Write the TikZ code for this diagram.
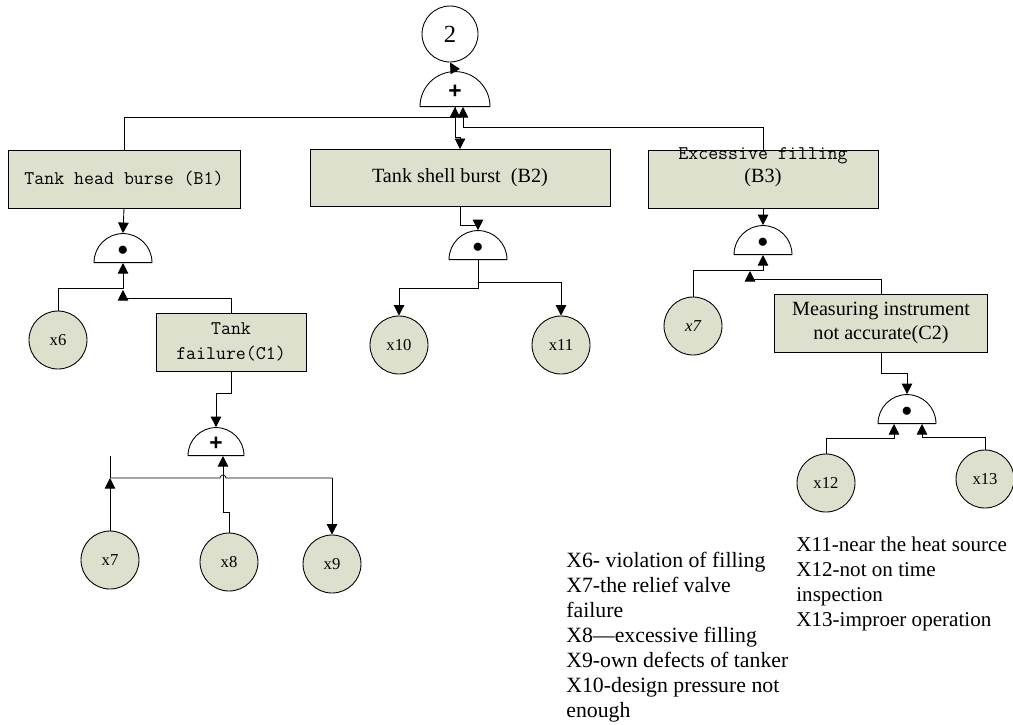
\documentclass[tikz,border=0pt]{standalone}
\usepackage{fontspec}
\setmainfont{Liberation Serif}
\setsansfont{Liberation Sans}
\usetikzlibrary{shapes.geometric,arrows.meta}
\definecolor{boxfill}{RGB}{221,224,204}
\begin{document}
\begin{tikzpicture}[x=0.02cm,y=-0.02cm,
  arr/.style={-{Triangle[length=6pt,width=6pt]},line width=0.5pt},
  event/.style={draw,fill=boxfill,line width=0.5pt,inner sep=0pt,align=center,font=\fontsize{11.5}{13.5}\selectfont},
  basic/.style={draw,circle,fill=boxfill,line width=0.5pt,minimum size=1.16cm,inner sep=0pt,font=\fontsize{9.5}{11}\selectfont},
  gate/.style={draw,semicircle,line width=0.5pt,inner sep=0pt,anchor=chord center,minimum width=1.16cm}]
\useasboundingbox (0,0) rectangle (1013,724);
% top event and OR gate
\node[draw,circle,line width=0.5pt,minimum size=1.12cm,font=\fontsize{14}{16}\selectfont] (T2) at (450,34) {2};
\node[gate,minimum width=1.4cm,font=\sffamily\bfseries\fontsize{13}{13}\selectfont] (G0) at (455,107) {+};
% intermediate events
\node[event,minimum width=4.64cm,minimum height=1.16cm,font=\ttfamily\fontsize{11}{13.5}\selectfont] (B1) at (124,179) {Tank head burse (B1)};
\node[event,minimum width=6cm,minimum height=1.14cm] (B2) at (460,178) {Tank shell burst\ \ (B2)};
\node[event,minimum width=4.6cm,minimum height=1.16cm] (B3) at (763,179) {};
\node[align=center,anchor=north,inner sep=0pt,font=\fontsize{11.5}{13}\selectfont] (B3t) at (763,147) {{\ttfamily\fontsize{11}{13}\selectfont Excessive filling}\\(B3)};
\node[event,minimum width=3cm,minimum height=1.16cm,font=\ttfamily\fontsize{11}{14}\selectfont] (C1) at (231,342) {Tank\\failure(C1)};
\node[event,minimum width=4.26cm,minimum height=1.16cm] (C2) at (881,323) {Measuring instrument\\not accurate(C2)};
% gates
\node[gate,font=\fontsize{12}{12}\selectfont] (G1) at (123,263) {$\bullet$};
\node[gate,minimum width=1.12cm,font=\sffamily\bfseries\fontsize{13}{13}\selectfont] (G3) at (216,456) {+};
\node[gate,font=\fontsize{12}{12}\selectfont] (G2) at (478,260) {$\bullet$};
\node[gate,font=\fontsize{12}{12}\selectfont] (G4) at (763,255) {$\bullet$};
\node[gate,font=\fontsize{12}{12}\selectfont] (G5) at (907,424) {$\bullet$};
% basic events
\node[basic] (X6) at (58,340) {x6};
\node[basic] (X7) at (110,560) {x7};
\node[basic] (X8) at (229,562) {x8};
\node[basic] (X9) at (332,564) {x9};
\node[basic] (X10) at (399,345) {x10};
\node[basic] (X11) at (561,345) {x11};
\node[basic] (X7b) at (693,326) {\itshape x7};
\node[basic] (X12) at (826,483) {x12};
\node[basic] (X13) at (985,479) {x13};
% connectors, top
\draw[arr] (G0.apex) -- (T2.south);
\draw[arr] (B1.north) -- ++(0,-32) -| (G0.chord center);
\draw[arr] (G0.chord center) -- ++(0,30) -| (B2.north);
\draw[arr] (B3.north) -- ++(0,-22) -| ([xshift=0.16cm]G0.chord center);
% B1 branch
\draw[arr] (B1.south) -- (G1.apex);
\draw[arr] (X6.north) -- ++(0,-22) -| (G1.chord center);
\draw[arr] (C1.north) -- ++(0,-14) -| ([yshift=-0.54cm]G1.chord center);
\draw[arr] (C1.south) -- ++(0,22) -| (G3.apex);
\coordinate (J7) at (110,478);
\coordinate (J9) at (332,478);
\draw[arr] (X7.north) -- (J7);
\draw (J7) -- ++(0,-22);
\draw (J7) -- (220,478) arc[start angle=180,end angle=360,radius=3] -- (J9);
\draw[arr] (J9) -- (X9.north);
\draw[arr] (X8.north) -- ++(0,-20) -| ([xshift=0.14cm]G3.chord center);
% B2 branch
\draw[arr] (B2.south) -- ++(0,18) -| (G2.apex);
\draw[arr] (G2.chord center) -- ++(0,28) -| (X10.north);
\draw[arr] (G2.chord center) -- ++(0,22) -| (X11.north);
% B3 branch
\draw[arr] (B3.south) -- (G4.apex);
\draw[arr] (X7b.north) -- ++(0,-26) -| (G4.chord center);
\draw[arr] (C2.north) -- ++(0,-14) -| ([xshift=-0.26cm,yshift=-0.32cm]G4.chord center);
\draw[arr] (C2.south) -- ++(0,21) -| (G5.apex);
\draw[arr] (X12.north) -- ++(0,-15) -| ([xshift=-0.26cm]G5.chord center);
\draw[arr] (X13.north) -- ++(0,-12) -| ([xshift=0.3cm]G5.chord center);
% legend
\node[anchor=north west,align=left,inner sep=0pt,font=\fontsize{12.4}{14.2}\selectfont] (L1) at (566,552)
  {X6- violation of filling\\X7-the relief valve\\failure\\X8---excessive filling\\X9-own defects of tanker\\X10-design pressure not\\enough};
\node[anchor=north west,align=left,inner sep=0pt,font=\fontsize{12}{14.2}\selectfont] (L2) at (796,537)
  {X11-near the heat source\\X12-not on time\\inspection\\X13-improer operation};
\end{tikzpicture}
\end{document}
